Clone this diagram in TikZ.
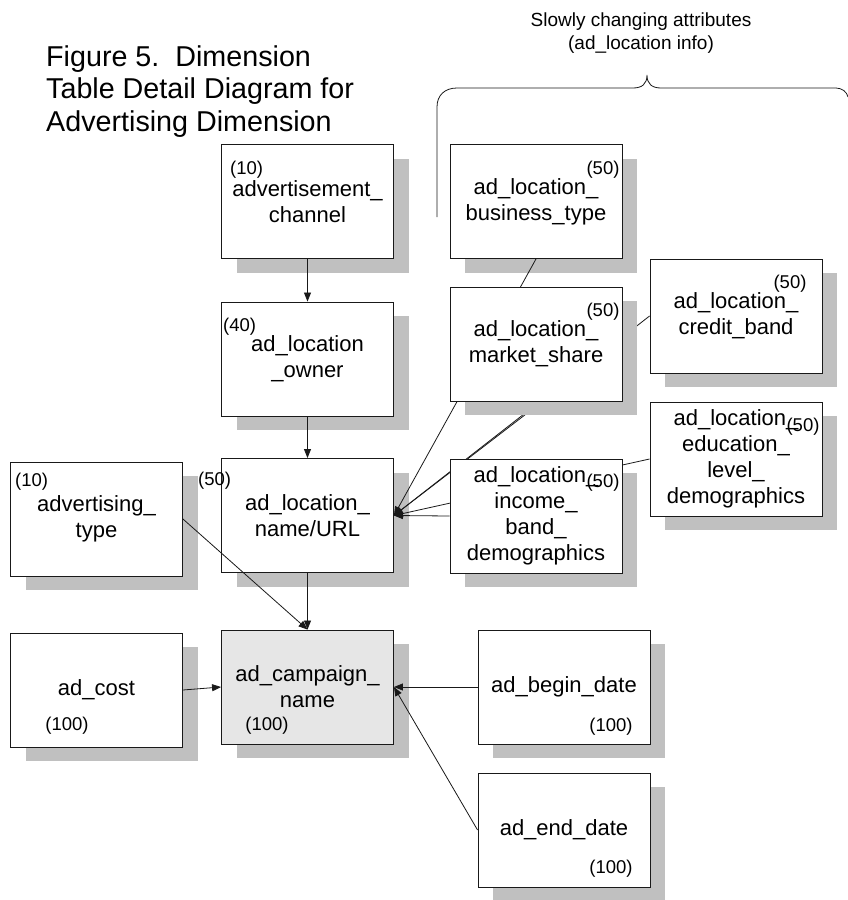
\documentclass[tikz,border=0pt]{standalone}
\usepackage{fontspec}
\setmainfont{Liberation Sans}
\usetikzlibrary{arrows.meta,shadows}
\pgfdeclarelayer{front}
\pgfsetlayers{main,front}
\definecolor{shadowgray}{RGB}{192,192,192}
\definecolor{keyfill}{RGB}{230,230,230}
\definecolor{inkline}{RGB}{25,25,25}

\begin{document}
\begin{tikzpicture}[x=1pt,y=-1pt,
  tbl/.style={draw=inkline, line width=0.9pt, fill=white,
    minimum width=172pt, minimum height=114pt, inner sep=0pt,
    align=center, font=\fontsize{22}{26}\selectfont,
    drop shadow={shadow xshift=15pt, shadow yshift=-14pt,
      fill=shadowgray, opacity=1}},
  keytbl/.style={tbl, fill=keyfill},
  sz/.style={inner sep=0pt, font=\fontsize{18.5}{22}\selectfont},
  link/.style={draw=inkline, line width=0.8pt},
  fk/.style={link, -{Triangle[length=9pt,width=7pt]}},
]
\useasboundingbox (0,0) rectangle (847,900);

% heading
\node[anchor=north west, inner sep=0pt, align=left,
      font=\fontsize{28.7}{33}\selectfont] (title) at (46,45)
  {Figure 5.\ \ Dimension\\Table Detail Diagram for\\Advertising Dimension};

% brace over the slowly changing attributes
\node[inner sep=0pt, align=center, font=\fontsize{19}{23}\selectfont]
  (scd) at (641,33) {Slowly changing attributes\\(ad\_location info)};
\draw[link] (437,217) -- (437,107)
  .. controls (437,95) and (445,88) .. (457,88) -- (633,88)
  .. controls (642,88) and (647,84) .. (647,75)
  .. controls (647,84) and (652,88) .. (661,88) -- (836,88)
  .. controls (842,88) and (847,92) .. (848,97);

% hierarchy and fact-side tables
\node[tbl] (chan) at (307.5,201.5) {advertisement\_\\channel};
\node[sz, anchor=west] at (230,170) {(10)};
\node[tbl] (owner) at (307.5,359) {ad\_location\\\_owner};
\node[sz, anchor=west] at (223,327) {(40)};
\node[tbl] (url) at (307.5,515.5) {ad\_location\_\\name/URL};
\node[sz, anchor=west] at (198,481) {(50)};
\node[tbl] (advtype) at (96.5,519) {advertising\_\\type};
\node[sz, anchor=west] at (15,482) {(10)};
\node[tbl] (cost) at (96.5,690) {ad\_cost};
\node[sz] at (67,726) {(100)};
\node[keytbl] (camp) at (307.5,687) {ad\_campaign\_\\name};
\node[sz] at (267,726) {(100)};
\node[tbl] (begin) at (564,687) {ad\_begin\_date};
\node[sz] at (611,727) {(100)};
\node[tbl] (end) at (564,830) {ad\_end\_date};
\node[sz] at (611,869) {(100)};
\node[tbl] (biz) at (536,201.5) {ad\_location\_\\business\_type};
\node[sz] at (603,170) {(50)};

% slowly changing attribute tables
\begin{pgfonlayer}{front}
\node[tbl] (market) at (536,344) {ad\_location\_\\market\_share};
\node[sz] at (603,312) {(50)};
\node[tbl] (credit) at (736,316) {ad\_location\_\\credit\_band};
\node[sz] at (790,284) {(50)};
\node[tbl] (edu) at (736,459) {ad\_location\_\\education\_\\level\_\\demographics};
\node[sz] at (803,427) {(50)};
\node[tbl] (income) at (536,516) {ad\_location\_\\income\_\\band\_\\demographics};
\node[sz] at (603,483) {(50)};
\end{pgfonlayer}

% relationships
\draw[fk] (chan.south) -- (owner.north);
\draw[fk] (owner.south) -- (url.north);
\draw[fk] (url.south) -- (camp.north);
\draw[fk] (advtype.east) -- (camp.north);
\draw[fk] (cost.east) -- (camp.west);
\draw[fk] (begin.west) -- (camp.east);
\draw[fk] (end.west) -- (camp.east);
\draw[fk] (biz.south) -- (url.east);
\draw[fk] (credit.west) -- (url.east);
\draw[fk] ([yshift=4pt]market.east) -- (url.east);
\draw[fk] (edu.west) -- (url.east);
\draw[fk] (income.west) -- (url.east);
\end{tikzpicture}
\end{document}
